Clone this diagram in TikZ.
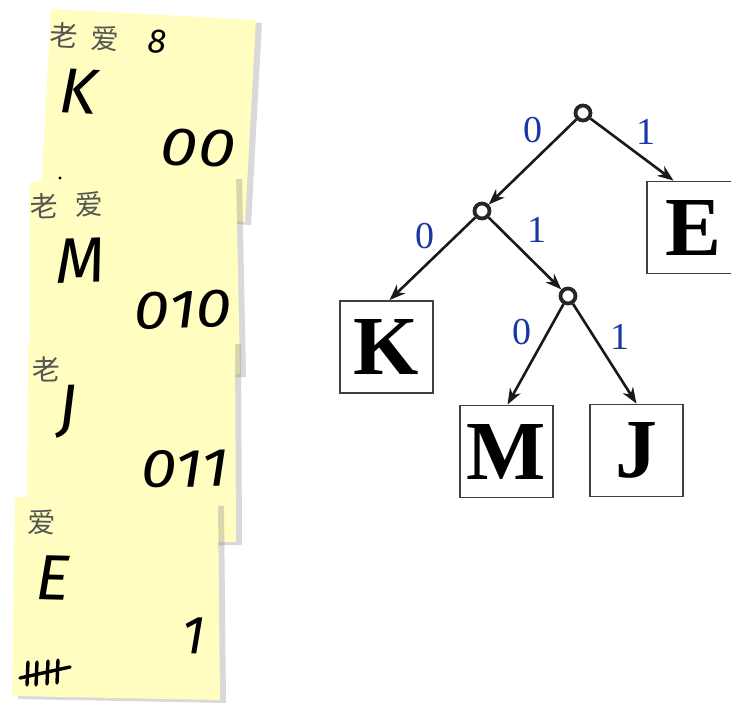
\documentclass[tikz,border=0pt]{standalone}
\usepackage{fontspec}
\setmainfont{Liberation Serif}
\newfontfamily\hand{Fira Sans}
\newfontfamily\cjk{Noto Sans CJK SC}
\usetikzlibrary{shadows,arrows.meta,calc}
\definecolor{notey}{RGB}{255,253,192}
\definecolor{lblue}{RGB}{25,55,165}
\definecolor{scrib}{RGB}{85,85,85}
\tikzset{
 note/.style={fill=notey, drop shadow={shadow xshift=6pt, shadow yshift=-3pt, opacity=0.3}},
 hw/.style={font=\hand\itshape\fontsize{64}{64}\selectfont, inner sep=0},
 code/.style={font=\hand\itshape\fontsize{54}{54}\selectfont, inner sep=0},
 zh/.style={font=\cjk\fontsize{28}{28}\selectfont, text=scrib, inner sep=0},
 tally/.style={line width=3.4pt, line cap=round},
 leaf/.style={draw=black!75, line width=1.8pt, minimum width=93pt, minimum height=92pt, inner sep=0, font=\bfseries\fontsize{84}{84}\selectfont},
 junction/.style={circle, draw=black!85, fill=white, line width=3.8pt, minimum size=15pt, inner sep=0},
 arr/.style={line width=2.6pt, draw=black!90, -{Stealth[length=16pt,width=12pt,inset=5pt]}},
 bit/.style={text=lblue, font=\fontsize{38}{38}\selectfont, inner sep=0},
}
\begin{document}
\begin{tikzpicture}[x=1pt,y=-1pt]
\useasboundingbox (0,0) rectangle (731,703);
% ---------- sticky notes ----------
% note 1 (K)
\path[note] (51,9) -- (256,20) -- (245,222) -- (40,210) -- cycle;
\node[zh, rotate=-3] (k1) at (64,35) {老};
\node[zh, rotate=-3] (k2) at (105,39) {爱};
\node[font=\hand\itshape\fontsize{34}{34}\selectfont, inner sep=0, rotate=-3] (k3) at (157,42) {8};
\node[hw, rotate=-3] (kl) at (78,91) {K};
\node[code, rotate=-3, xscale=1.25] (kc) at (198,148) {00};
% note 2 (M)
\path[note] (30,182) -- (236,176) -- (240,374) -- (30,378) -- cycle;
\fill (60,178) circle (1.6pt);
\node[zh, rotate=2] (m1) at (44,206) {老};
\node[zh, rotate=2] (m2) at (89,204) {爱};
\node[hw, rotate=2] (ml) at (80,261) {M};
\node[code, rotate=2, xscale=1.2] (mc) at (183,310) {010};
% note 3 (J)
\path[note] (28,345) -- (235,341) -- (236,542) -- (27,545) -- cycle;
\node[zh, rotate=1] (j1) at (46,369) {老};
\node[hw, rotate=1] (jl) at (68,412) {J};
\node[code, rotate=1, xscale=1.2] (jc) at (185,469) {011};
% note 4 (E)
\path[note] (15,497) -- (218,503) -- (220,700) -- (12,696) -- cycle;
\node[zh, rotate=-1.5] (e1) at (42,522) {爱};
\node[hw, rotate=-1.5] (el) at (53,578) {E};
\node[code, rotate=-1.5] (ec) at (193,636) {1};
\draw[tally] (28,662) -- (27,685);
\draw[tally] (37,662) -- (36,685);
\draw[tally] (48,661) -- (47,684);
\draw[tally] (58,660) -- (57,683);
\draw[tally] (20,678) -- (70,667);
% ---------- tree ----------
\node[junction] (r) at (583,113) {};
\node[junction] (a) at (482,211) {};
\node[junction] (b) at (568,296) {};
\node[leaf] (E) at (693.5,227.5) {E};
\node[leaf] (K) at (386.5,347) {K};
\node[leaf] (M) at (506.5,451.5) {M};
\node[leaf] (J) at (636.5,450.5) {J};
\draw[arr] (r) -- (a);
\draw[arr] (r) -- ([xshift=-20pt]E.north);
\draw[arr] (a) -- ([xshift=3pt]K.north);
\draw[arr] (a) -- (b);
\draw[arr] (b) -- ([xshift=1pt]M.north);
\draw[arr] (b) -- (J.north);
\node[bit] (l1) at (533,130) {0};
\node[bit] (l2) at (646,132) {1};
\node[bit] (l3) at (425,236) {0};
\node[bit] (l4) at (537,230) {1};
\node[bit] (l5) at (522,332) {0};
\node[bit] (l6) at (620,337) {1};
\end{tikzpicture}
\end{document}
